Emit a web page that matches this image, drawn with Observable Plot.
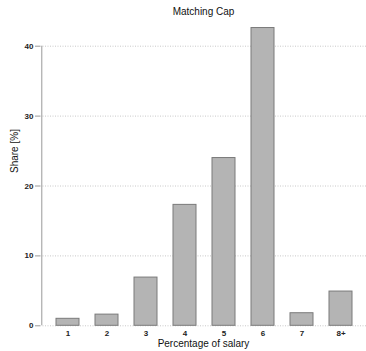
<!DOCTYPE html>
<html>
<head>
<meta charset="utf-8">
<script src="https://cdn.jsdelivr.net/npm/d3@7"></script>
<script src="https://cdn.jsdelivr.net/npm/@observablehq/plot@0.6"></script>
<style>
  html, body { margin: 0; padding: 0; background: #fff; }
  svg { display: block; }
</style>
</head>
<body>
<div id="chart"></div>
<script>
const categories = ["1", "2", "3", "4", "5", "6", "7", "8+"];
const shares = [1.0, 1.6, 6.9, 17.3, 24.0, 42.6, 1.8, 4.9];
const yTicks = [0, 10, 20, 30, 40];
const title = "Matching Cap";
const xLabel = "Percentage of salary";
const yLabel = "Share [%]";

const data = categories.map((c, i) => ({category: c, share: shares[i]}));

const chart = Plot.plot({
  width: 366,
  height: 351,
  marginLeft: 40,
  marginRight: 0,
  marginTop: 20,
  marginBottom: 26,
  style: {fontFamily: "Liberation Sans, Arial, sans-serif", fontSize: "8px", color: "#222"},
  x: {domain: categories, range: [40, 368], paddingInner: 0.4, paddingOuter: 0.38, label: null},
  y: {domain: [0, 44], range: [325.3, 325.3 - 44 * 6.99], label: null},
  marks: [
    Plot.ruleY(yTicks, {stroke: "#c8c8c8", strokeDasharray: "1,1.5", strokeWidth: 1}),
    Plot.barY(data, {x: "category", y: "share", fill: "#b4b4b4", stroke: "#7a7a7a", strokeWidth: 1}),
    Plot.ruleX([categories[0]], {x: d => d, y1: 0, y2: 40, dx: -26.2, stroke: "#999", strokeWidth: 1}),
    Plot.axisY(yTicks, {anchor: "left", tickSize: 5, tickPadding: 2, stroke: "#999", fontSize: 8, fontWeight: "bold", label: null}),
    Plot.axisX({anchor: "bottom", tickSize: 0, tickPadding: 5, fontSize: 8, fontWeight: "bold", label: null}),
    Plot.text([xLabel], {frameAnchor: "bottom", dy: 21, fontSize: 10, fill: "#111"}),
    Plot.text([yLabel], {frameAnchor: "left", dx: -26, rotate: -90, fontSize: 10, fill: "#111"}),
    Plot.text([title], {frameAnchor: "top", dy: -13, fontSize: 10, fill: "#111"})
  ]
});
document.getElementById("chart").appendChild(chart);
</script>
</body>
</html>
